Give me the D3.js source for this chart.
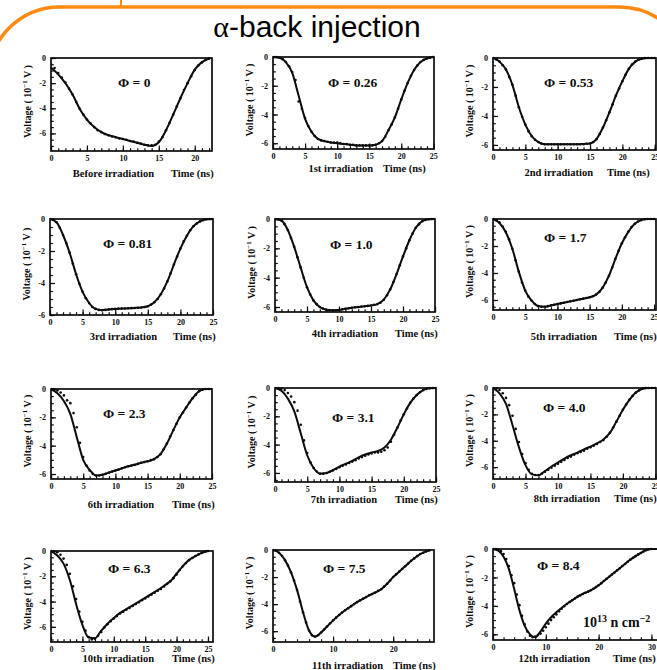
<!DOCTYPE html>
<html>
<head>
<meta charset="utf-8">
<script src="https://cdn.jsdelivr.net/npm/d3@7/dist/d3.min.js"></script>
<style>
  body { margin: 0; background: #fff; }
  svg { display: block; }
</style>
</head>
<body>
<svg id="chart" width="657" height="670"></svg>
<script>
// Pulse shapes after successive neutron irradiations (alpha injected from the back side)
const fluences = ["0", "0.26", "0.53", "0.81", "1.0", "1.7", "2.3", "3.1", "4.0", "6.3", "7.5", "8.4"];
const runLabels = ["Before irradiation", "1st irradiation", "2nd irradiation", "3rd irradiation",
  "4th irradiation", "5th irradiation", "6th irradiation", "7th irradiation",
  "8th irradiation", "10th irradiation", "11th irradiation", "12th irradiation"];

// axis extents (ns, 10^-1 V)
const timeSpan = [22.4, 25.1, 25.2, 25, 25, 25.3, 25, 25, 25.1, 25.8, 26.8, 32];
const voltFloor = [-7.4, -6.4, -6.35, -6, -6.34, -6.74, -6.35, -6.64, -6.9, -7.2, -6.8, -6.4];

// tick labels
const timeTicksA = [0, 5, 10, 15, 20];
const timeTicksB = [0, 5, 10, 15, 20, 25];
const timeTicksC = [0, 10, 20];
const timeTicksD = [0, 10, 20, 30];
const voltTicks = [0, -2, -4, -6];

// simulated pulse, one value per ns starting at t = 0
const sim1 = [-0.75, -1.3, -2.0, -2.9, -4.05, -4.9, -5.5, -5.9, -6.15, -6.3, -6.45, -6.6, -6.75, -6.9, -7.0, -6.7, -5.75, -4.5, -3.2, -2.0, -0.92, -0.33, -0.05];
const sim2 = [0, -0.05, -0.35, -1.1, -2.7, -4.3, -5.2, -5.7, -5.85, -5.95, -6.0, -6.05, -6.1, -6.15, -6.15, -6.15, -6.1, -5.85, -5.1, -4.2, -2.95, -1.8, -0.9, -0.35, -0.1, 0];
const sim3 = [0, -0.25, -0.8, -1.85, -3.4, -4.6, -5.4, -5.8, -5.95, -5.95, -5.95, -5.95, -5.95, -5.95, -5.93, -5.9, -5.6, -4.8, -3.75, -2.6, -1.6, -0.75, -0.25, -0.05, 0, 0];
const sim4 = [0, -0.2, -1.0, -2.1, -3.45, -4.55, -5.25, -5.62, -5.7, -5.65, -5.62, -5.6, -5.58, -5.56, -5.53, -5.45, -5.2, -4.7, -3.9, -2.85, -1.85, -1.05, -0.45, -0.15, -0.02, 0];
const sim5 = [0, -0.1, -0.75, -1.9, -3.3, -4.65, -5.55, -6.0, -6.18, -6.22, -6.2, -6.12, -6.05, -6.0, -5.95, -5.9, -5.8, -5.5, -4.8, -3.75, -2.55, -1.45, -0.6, -0.15, -0.02, 0];
const sim6 = [0, -0.3, -1.0, -2.2, -3.9, -5.3, -6.05, -6.45, -6.5, -6.4, -6.3, -6.2, -6.1, -6.0, -5.9, -5.8, -5.6, -5.1, -4.2, -2.95, -1.8, -0.95, -0.35, -0.08, 0, 0];
const sim7 = [0, -0.3, -0.85, -1.75, -3.4, -5.0, -5.7, -6.1, -6.05, -5.9, -5.75, -5.6, -5.45, -5.35, -5.2, -5.1, -4.95, -4.6, -3.85, -2.9, -2.0, -1.3, -0.65, -0.15, 0, 0];
const sim8 = [0, -0.2, -0.75, -1.65, -3.2, -4.75, -5.65, -6.05, -6.0, -5.8, -5.55, -5.35, -5.15, -4.9, -4.7, -4.55, -4.45, -4.2, -3.65, -2.8, -1.85, -1.05, -0.5, -0.15, -0.02, 0];
const sim9 = [0, -0.4, -1.2, -2.8, -4.5, -5.85, -6.55, -6.62, -6.3, -5.95, -5.65, -5.35, -5.1, -4.9, -4.65, -4.45, -4.2, -3.9, -3.4, -2.55, -1.65, -0.9, -0.35, -0.05, 0, 0];
const sim10 = [0, -0.35, -1.0, -2.3, -4.2, -5.85, -6.85, -6.9, -6.3, -5.75, -5.3, -4.9, -4.6, -4.3, -4.0, -3.7, -3.4, -3.1, -2.75, -2.4, -1.8, -1.2, -0.7, -0.4, -0.15, 0];
const sim11 = [0, -0.2, -0.75, -1.65, -2.95, -4.6, -5.95, -6.4, -6.1, -5.65, -5.2, -4.8, -4.45, -4.15, -3.85, -3.6, -3.35, -3.15, -2.9, -2.5, -2.0, -1.6, -1.2, -0.8, -0.45, -0.2, -0.03];
const sim12 = [0, -0.12, -0.55, -1.4, -2.8, -4.3, -5.4, -6.0, -6.2, -5.8, -5.25, -4.8, -4.45, -4.15, -3.85, -3.6, -3.35, -3.15, -3.0, -2.8, -2.55, -2.25, -1.95, -1.65, -1.35, -1.05, -0.75, -0.5, -0.28, -0.08, 0, 0];

// measured pulse, one value every 0.5 ns starting at t = 0
const meas1 = [-0.5, -0.8, -1.2, -1.55, -1.95, -2.45, -2.9, -3.5, -4.05, -4.5, -4.9, -5.2, -5.5, -5.75, -5.9, -6.05, -6.15, -6.25, -6.3, -6.4, -6.45, -6.5, -6.6, -6.65, -6.75, -6.8, -6.9, -6.95, -6.95, -6.9, -6.65, -6.3, -5.75, -5.15, -4.5, -3.85, -3.2, -2.55, -2.0, -1.45, -0.95, -0.6, -0.35, -0.15, -0.05];
const meas2 = [0, 0, -0.05, -0.15, -0.35, -0.65, -1.05, -1.6, -3.1, -3.6, -4.25, -4.8, -5.2, -5.5, -5.7, -5.8, -5.85, -5.9, -5.95, -5.95, -5.95, -6.0, -6.05, -6.05, -6.1, -6.1, -6.15, -6.15, -6.15, -6.15, -6.15, -6.15, -6.1, -6.0, -5.85, -5.55, -5.1, -4.7, -4.2, -3.6, -2.95, -2.35, -1.8, -1.3, -0.9, -0.6, -0.35, -0.2, -0.1, -0.03, 0];
const meas3 = [0, -0.1, -0.25, -0.5, -0.8, -1.3, -1.85, -2.6, -3.4, -4.05, -4.6, -5.05, -5.4, -5.65, -5.8, -5.9, -5.95, -5.95, -5.95, -5.95, -5.95, -5.95, -5.95, -5.95, -5.95, -5.95, -5.95, -5.95, -5.95, -5.92, -5.9, -5.8, -5.6, -5.25, -4.8, -4.3, -3.75, -3.2, -2.6, -2.1, -1.6, -1.15, -0.75, -0.45, -0.25, -0.12, -0.05, 0, 0, 0, 0];
const meas4 = [0, -0.05, -0.2, -0.55, -1.0, -1.5, -2.1, -2.8, -3.45, -4.05, -4.55, -4.95, -5.25, -5.5, -5.62, -5.68, -5.7, -5.68, -5.65, -5.63, -5.62, -5.6, -5.6, -5.59, -5.58, -5.57, -5.56, -5.55, -5.53, -5.5, -5.45, -5.35, -5.2, -5.0, -4.7, -4.35, -3.9, -3.4, -2.85, -2.35, -1.85, -1.4, -1.05, -0.7, -0.45, -0.28, -0.15, -0.07, -0.02, 0, 0];
const meas5 = [0, -0.02, -0.1, -0.35, -0.75, -1.3, -1.9, -2.6, -3.3, -4.0, -4.65, -5.15, -5.55, -5.8, -6.0, -6.1, -6.18, -6.2, -6.22, -6.22, -6.2, -6.15, -6.12, -6.08, -6.05, -6.02, -6.0, -5.97, -5.95, -5.92, -5.9, -5.85, -5.8, -5.7, -5.5, -5.2, -4.8, -4.3, -3.75, -3.15, -2.55, -2.0, -1.45, -1.0, -0.6, -0.35, -0.15, -0.06, -0.02, 0, 0];
const meas6 = [0, -0.1, -0.25, -0.55, -0.95, -1.5, -2.2, -3.05, -3.9, -4.7, -5.3, -5.75, -6.05, -6.3, -6.45, -6.5, -6.5, -6.45, -6.4, -6.35, -6.3, -6.25, -6.2, -6.15, -6.1, -6.05, -6.0, -5.95, -5.9, -5.85, -5.8, -5.72, -5.6, -5.4, -5.1, -4.7, -4.2, -3.6, -2.95, -2.35, -1.8, -1.35, -0.95, -0.6, -0.35, -0.18, -0.08, -0.02, 0, 0, 0];
const meas7 = [0, -0.02, -0.1, -0.25, -0.45, -0.8, -1.0, -1.7, -2.7, -3.8, -4.8, -5.4, -5.75, -6.0, -6.1, -6.1, -6.05, -5.98, -5.9, -5.82, -5.75, -5.68, -5.6, -5.52, -5.45, -5.4, -5.35, -5.28, -5.2, -5.15, -5.1, -5.02, -4.95, -4.8, -4.6, -4.25, -3.85, -3.35, -2.9, -2.45, -2.0, -1.65, -1.3, -0.95, -0.65, -0.4, -0.15, -0.05, 0, 0, 0];
const meas8 = [0, 0, -0.05, -0.15, -0.35, -0.6, -1.0, -1.6, -2.6, -3.7, -4.6, -5.25, -5.65, -5.9, -6.05, -6.05, -6.0, -5.92, -5.82, -5.72, -5.6, -5.5, -5.4, -5.3, -5.2, -5.1, -4.98, -4.88, -4.78, -4.7, -4.62, -4.55, -4.55, -4.5, -4.4, -4.2, -3.8, -3.3, -2.8, -2.3, -1.85, -1.45, -1.05, -0.75, -0.5, -0.3, -0.15, -0.07, -0.02, 0, 0];
const meas9 = [0, -0.05, -0.15, -0.4, -0.75, -1.3, -2.1, -3.1, -4.1, -5.0, -5.7, -6.2, -6.5, -6.6, -6.6, -6.5, -6.35, -6.2, -6.05, -5.9, -5.75, -5.6, -5.45, -5.3, -5.2, -5.05, -4.95, -4.85, -4.75, -4.6, -4.5, -4.38, -4.25, -4.1, -3.95, -3.7, -3.4, -3.0, -2.55, -2.1, -1.65, -1.25, -0.9, -0.6, -0.35, -0.18, -0.05, 0, 0, 0, 0];
const meas10 = [0, -0.02, -0.1, -0.3, -0.6, -1.1, -1.8, -2.8, -3.8, -4.8, -5.6, -6.3, -6.8, -7.0, -6.95, -6.7, -6.4, -6.05, -5.8, -5.55, -5.35, -5.15, -4.95, -4.8, -4.65, -4.5, -4.35, -4.2, -4.05, -3.9, -3.75, -3.6, -3.45, -3.3, -3.15, -3.0, -2.8, -2.6, -2.4, -2.15, -1.85, -1.5, -1.2, -0.95, -0.72, -0.55, -0.4, -0.27, -0.15, -0.05, 0];
const meas11 = [0, -0.05, -0.2, -0.45, -0.75, -1.15, -1.65, -2.25, -2.95, -3.8, -4.6, -5.35, -5.95, -6.3, -6.4, -6.3, -6.1, -5.88, -5.65, -5.42, -5.2, -5.0, -4.8, -4.62, -4.45, -4.3, -4.15, -4.0, -3.85, -3.72, -3.6, -3.48, -3.35, -3.25, -3.15, -3.02, -2.9, -2.7, -2.5, -2.25, -2.0, -1.8, -1.6, -1.4, -1.2, -1.0, -0.8, -0.62, -0.45, -0.3, -0.2, -0.1, -0.03];
const meas12 = [0, 0, -0.05, -0.15, -0.35, -0.7, -1.2, -1.85, -2.4, -3.2, -3.95, -4.7, -5.3, -5.8, -6.1, -6.2, -6.15, -6.05, -5.95, -5.75, -5.5, -5.25, -5.0, -4.8, -4.6, -4.38, -4.2, -4.02, -3.87, -3.73, -3.6, -3.48, -3.37, -3.27, -3.17, -3.08, -3.0, -2.9, -2.8, -2.68, -2.55, -2.4, -2.25, -2.1, -1.95, -1.8, -1.65, -1.5, -1.35, -1.2, -1.05, -0.9, -0.75, -0.62, -0.5, -0.38, -0.28, -0.18, -0.08, -0.02, 0];

const simulated = [sim1, sim2, sim3, sim4, sim5, sim6, sim7, sim8, sim9, sim10, sim11, sim12];
const measured = [meas1, meas2, meas3, meas4, meas5, meas6, meas7, meas8, meas9, meas10, meas11, meas12];
const majorTicks = [timeTicksA, timeTicksB, timeTicksB, timeTicksB, timeTicksB, timeTicksB,
  timeTicksB, timeTicksB, timeTicksB, timeTicksB, timeTicksC, timeTicksD];
const minorStep = [1, 1, 1, 1, 1, 1, 1, 1, 1, 1, 2, 2];

// panel frames and label placement (pixels)
const frames = [
  { L: 51, T: 58, R: 212, B: 151, phiX: 118, phiY: 82, runEnd: 154, timeX: 171, subY: 173 },
  { L: 273, T: 57, R: 434, B: 149, phiX: 328, phiY: 82, runEnd: 373, timeX: 383, subY: 168 },
  { L: 493, T: 58, R: 656, B: 150, phiX: 544, phiY: 82, runEnd: 593, timeX: 607, subY: 172 },
  { L: 50, T: 219, R: 213, B: 315, phiX: 103, phiY: 243, runEnd: 157, timeX: 173, subY: 336 },
  { L: 275, T: 219, R: 435, B: 312, phiX: 330, phiY: 244, runEnd: 378, timeX: 395, subY: 333 },
  { L: 493, T: 219, R: 656, B: 310, phiX: 544, phiY: 237, runEnd: 597, timeX: 614, subY: 336 },
  { L: 51, T: 389, R: 212, B: 479, phiX: 103, phiY: 413, runEnd: 154, timeX: 172, subY: 504 },
  { L: 275, T: 388, R: 436, B: 482, phiX: 332, phiY: 417, runEnd: 377, timeX: 395, subY: 499 },
  { L: 493, T: 388, R: 656, B: 479, phiX: 543, phiY: 407, runEnd: 600, timeX: 614, subY: 498 },
  { L: 51, T: 551, R: 213, B: 642, phiX: 108, phiY: 568, runEnd: 154, timeX: 172, subY: 658 },
  { L: 273, T: 550, R: 434, B: 642, phiX: 323, phiY: 568, runEnd: 383, timeX: 393, subY: 665 },
  { L: 493, T: 549, R: 662, B: 640, phiX: 537, phiY: 565, runEnd: 590, timeX: 613, subY: 658 }
];

const svg = d3.select("#chart");
const serif = "'Liberation Serif', 'DejaVu Serif', serif";
const ink = "#0c0c0c";

// slide frame
svg.append("rect")
  .attr("x", -12).attr("y", 7).attr("width", 703).attr("height", 800)
  .attr("rx", 72).attr("ry", 72)
  .attr("fill", "none").attr("stroke", "#ff8a12").attr("stroke-width", 3.5);
svg.append("line")
  .attr("x1", 121).attr("x2", 121).attr("y1", 0).attr("y2", 6)
  .attr("stroke", "#ff8a12").attr("stroke-width", 2);

const title = svg.append("text")
  .attr("x", 317).attr("y", 37)
  .attr("text-anchor", "middle")
  .attr("font-family", "'Liberation Sans', Arial, sans-serif")
  .attr("font-size", 30)
  .attr("fill", "#000");
title.append("tspan").attr("font-family", serif).text("α");
title.append("tspan").text("-back injection");

frames.forEach((f, i) => {
  const x = d3.scaleLinear().domain([0, timeSpan[i]]).range([f.L, f.R]);
  const y = d3.scaleLinear().domain([voltFloor[i], 0]).range([f.B, f.T]);
  const g = svg.append("g");

  const clipId = "clip" + i;
  svg.append("clipPath").attr("id", clipId)
    .append("rect").attr("x", f.L).attr("y", f.T - 2).attr("width", f.R - f.L).attr("height", f.B - f.T + 2);

  // minor and major ticks along the time axis, pointing inward
  const minor = d3.range(0, timeSpan[i] + 1e-6, minorStep[i]);
  g.append("g").attr("transform", `translate(0,${f.B})`)
    .call(d3.axisBottom(x).tickValues(minor).tickSize(-2.8).tickFormat(""))
    .call(a => a.select(".domain").remove());
  g.append("g").attr("transform", `translate(0,${f.B})`)
    .call(d3.axisBottom(x).tickValues(majorTicks[i]).tickSize(-5.5).tickPadding(4.5).tickFormat(d3.format("d")))
    .call(a => a.select(".domain").remove())
    .call(a => a.selectAll("text").attr("font-family", serif).attr("font-weight", "bold").attr("font-size", 8).attr("fill", ink));

  const vMinor = d3.range(0, voltFloor[i] - 1e-6, -0.5);
  g.append("g").attr("transform", `translate(${f.L},0)`)
    .call(d3.axisLeft(y).tickValues(vMinor).tickSize(-2.8).tickFormat(""))
    .call(a => a.select(".domain").remove());
  g.append("g").attr("transform", `translate(${f.L},0)`)
    .call(d3.axisLeft(y).tickValues(voltTicks).tickSize(-5).tickPadding(5)
      .tickFormat(d => d === 0 ? "0" : "-" + Math.abs(d)))
    .call(a => a.select(".domain").remove())
    .call(a => a.selectAll("text").attr("font-family", serif).attr("font-weight", "bold").attr("font-size", 8).attr("fill", ink));

  g.selectAll(".tick line").attr("stroke", ink).attr("stroke-width", 1.2);

  // frame
  g.append("rect")
    .attr("x", f.L).attr("y", f.T).attr("width", f.R - f.L).attr("height", f.B - f.T)
    .attr("fill", "none").attr("stroke", ink).attr("stroke-width", 1.7);

  // measured points
  const pts = measured[i].map((v, k) => [k * 0.5, v]).filter(p => p[0] <= timeSpan[i]);
  g.append("g").attr("clip-path", `url(#${clipId})`)
    .selectAll("circle").data(pts).join("circle")
    .attr("cx", d => x(d[0])).attr("cy", d => y(d[1]))
    .attr("r", 1.3).attr("fill", ink);

  // simulated curve
  const line = d3.line().x(d => x(d[0])).y(d => y(d[1])).curve(d3.curveMonotoneX);
  g.append("path")
    .attr("clip-path", `url(#${clipId})`)
    .datum(simulated[i].map((v, k) => [k, v]).filter(p => p[0] <= timeSpan[i]))
    .attr("d", line)
    .attr("fill", "none").attr("stroke", ink).attr("stroke-width", 2);

  // fluence label
  g.append("text")
    .attr("x", f.phiX).attr("y", f.phiY).attr("dy", "0.35em")
    .attr("font-family", serif).attr("font-weight", "bold").attr("font-size", 13.5).attr("fill", ink)
    .text("Φ = " + fluences[i]);

  // voltage axis title
  const yl = g.append("text")
    .attr("transform", `translate(${f.L - 20},${(f.T + f.B) / 2 - 3}) rotate(-90)`)
    .attr("text-anchor", "middle")
    .attr("font-family", serif).attr("font-weight", "bold").attr("font-size", 10).attr("fill", ink);
  yl.append("tspan").text("Voltage ( 10");
  yl.append("tspan").attr("font-size", 7).attr("dy", -4).text("−1");
  yl.append("tspan").attr("dy", 4).text(" V )");

  // run and time labels
  g.append("text")
    .attr("x", f.runEnd).attr("y", f.subY).attr("dy", "0.35em").attr("text-anchor", "end")
    .attr("font-family", serif).attr("font-weight", "bold").attr("font-size", 10.5).attr("fill", ink)
    .text(runLabels[i]);
  g.append("text")
    .attr("x", f.timeX).attr("y", f.subY).attr("dy", "0.35em")
    .attr("font-family", serif).attr("font-weight", "bold").attr("font-size", 10.5).attr("fill", ink)
    .text("Time (ns)");
});

// fluence unit in the last panel
const unit = svg.append("text")
  .attr("x", 583).attr("y", 627)
  .attr("font-family", serif).attr("font-weight", "bold").attr("font-size", 14).attr("fill", ink);
unit.append("tspan").text("10");
unit.append("tspan").attr("font-size", 10).attr("dy", -5).text("13");
unit.append("tspan").attr("dy", 5).text(" n cm");
unit.append("tspan").attr("font-size", 10).attr("dy", -5).text("−2");
</script>
</body>
</html>
